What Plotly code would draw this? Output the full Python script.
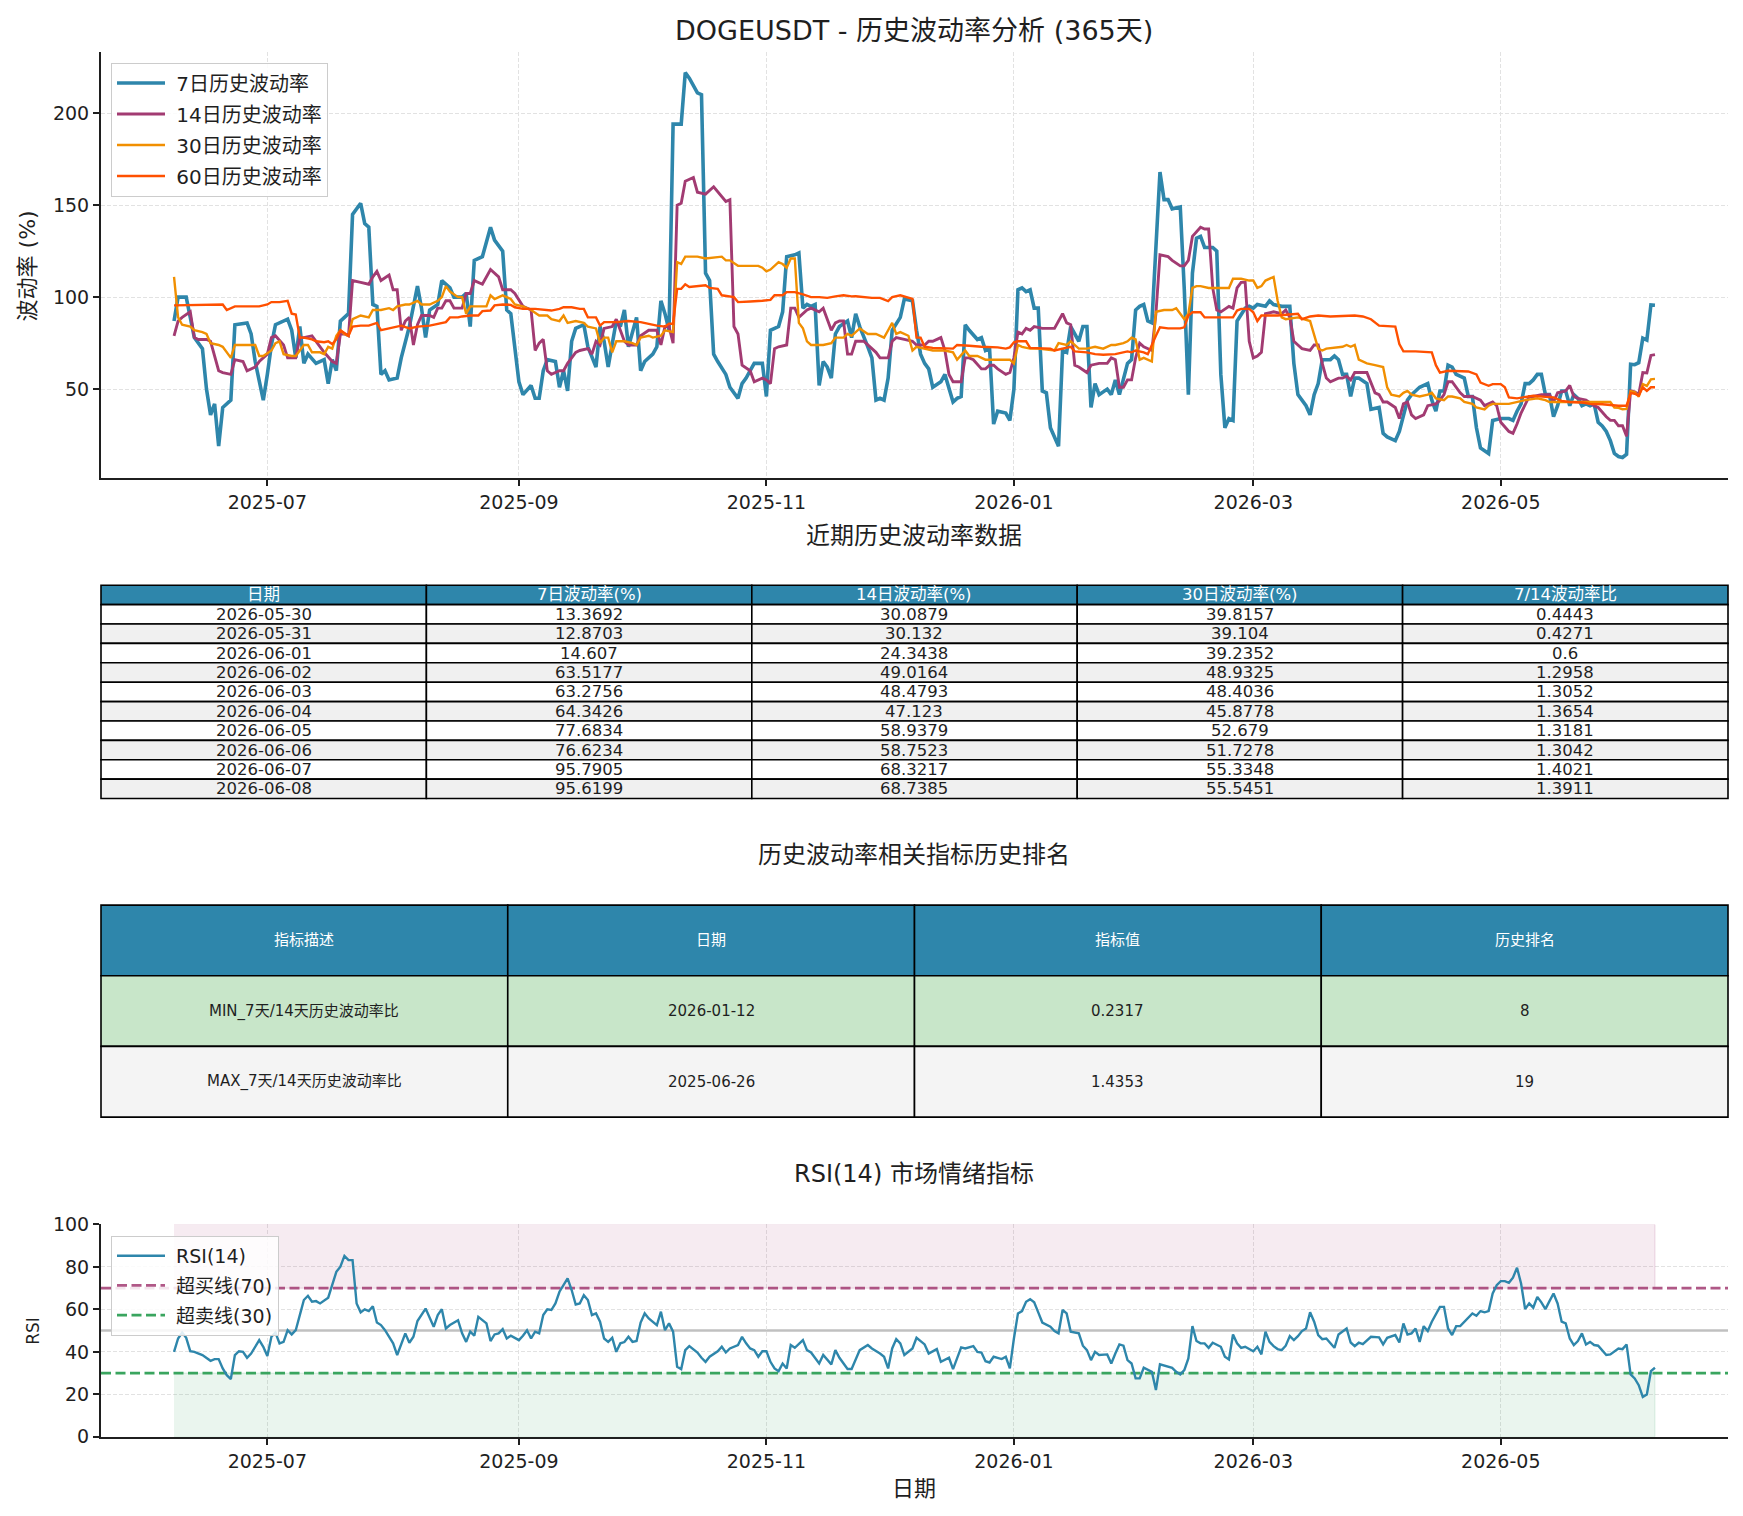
import plotly.graph_objects as go

W, H = 1743, 1516
FONT = "DejaVu Sans, Noto Sans CJK SC, sans-serif"
INK = "#1f1f1f"

C7, C14, C30, C60 = "#2E86AB", "#A23B72", "#F18F01", "#FF5000"
C_OB, C_OS = "#A23B72", "#3aa55f"

# ---------------- data: recent-table values ----------------
TABLE_DATES = ["2026-05-30", "2026-05-31", "2026-06-01", "2026-06-02", "2026-06-03",
               "2026-06-04", "2026-06-05", "2026-06-06", "2026-06-07", "2026-06-08"]
TABLE_VOL_7D = [13.3692, 12.8703, 14.607, 63.5177, 63.2756, 64.3426, 77.6834, 76.6234, 95.7905, 95.6199]
TABLE_VOL_14D = [30.0879, 30.132, 24.3438, 49.0164, 48.4793, 47.123, 58.9379, 58.7523, 68.3217, 68.7385]
TABLE_VOL_30D = [39.8157, 39.104, 39.2352, 48.9325, 48.4036, 45.8778, 52.679, 51.7278, 55.3348, 55.5451]
TABLE_RATIO = [0.4443, 0.4271, 0.6, 1.2958, 1.3052, 1.3654, 1.3181, 1.3042, 1.4021, 1.3911]
TABLE1_HEADER = ["日期", "7日波动率(%)", "14日波动率(%)", "30日波动率(%)", "7/14波动率比"]

RANK_HEADER = ["指标描述", "日期", "指标值", "历史排名"]
RANK_DESC = ["MIN_7天/14天历史波动率比", "MAX_7天/14天历史波动率比"]
RANK_DATE = ["2026-01-12", "2025-06-26"]
RANK_VALUE = ["0.2317", "1.4353"]
RANK_POS = ["8", "19"]

# ---------------- data: volatility series ----------------
VOL_7D = [
    ("2025-06-08", 87), ("2025-06-09", 100), ("2025-06-11", 100), ("2025-06-12", 88), ("2025-06-13", 78),
    ("2025-06-15", 72), ("2025-06-16", 50), ("2025-06-17", 36), ("2025-06-18", 42), ("2025-06-19", 19),
    ("2025-06-20", 40), ("2025-06-22", 44), ("2025-06-23", 85), ("2025-06-26", 86), ("2025-06-27", 80),
    ("2025-06-28", 65), ("2025-06-30", 44), ("2025-07-01", 58), ("2025-07-02", 74), ("2025-07-03", 85),
    ("2025-07-05", 87), ("2025-07-06", 88), ("2025-07-07", 82), ("2025-07-08", 67), ("2025-07-09", 84),
    ("2025-07-10", 64), ("2025-07-11", 69), ("2025-07-13", 64), ("2025-07-15", 66), ("2025-07-16", 53),
    ("2025-07-17", 66), ("2025-07-18", 60), ("2025-07-19", 87), ("2025-07-21", 91), ("2025-07-22", 145),
    ("2025-07-24", 151), ("2025-07-25", 140), ("2025-07-26", 138), ("2025-07-27", 96), ("2025-07-28", 95),
    ("2025-07-29", 58), ("2025-07-30", 60), ("2025-07-31", 55), ("2025-08-02", 56), ("2025-08-03", 67),
    ("2025-08-05", 84), ("2025-08-07", 106), ("2025-08-08", 94), ("2025-08-09", 78), ("2025-08-10", 93),
    ("2025-08-12", 96), ("2025-08-13", 109), ("2025-08-15", 105), ("2025-08-16", 100), ("2025-08-18", 100),
    ("2025-08-19", 102), ("2025-08-20", 84), ("2025-08-21", 120), ("2025-08-23", 122), ("2025-08-25", 138),
    ("2025-08-26", 131), ("2025-08-28", 125), ("2025-08-29", 93), ("2025-08-30", 91), ("2025-09-01", 54),
    ("2025-09-02", 47), ("2025-09-04", 52), ("2025-09-05", 45), ("2025-09-06", 45), ("2025-09-07", 60),
    ("2025-09-08", 66), ("2025-09-10", 65), ("2025-09-11", 51), ("2025-09-12", 60), ("2025-09-13", 49),
    ("2025-09-14", 76), ("2025-09-15", 83), ("2025-09-17", 85), ("2025-09-18", 73), ("2025-09-20", 62),
    ("2025-09-21", 84), ("2025-09-22", 76), ("2025-09-23", 62), ("2025-09-25", 87), ("2025-09-26", 84),
    ("2025-09-27", 93), ("2025-09-28", 73), ("2025-09-30", 89), ("2025-10-01", 60), ("2025-10-02", 65),
    ("2025-10-04", 69), ("2025-10-05", 73), ("2025-10-06", 98), ("2025-10-07", 91), ("2025-10-08", 82),
    ("2025-10-09", 194), ("2025-10-11", 194), ("2025-10-12", 222), ("2025-10-13", 219), ("2025-10-14", 215),
    ("2025-10-15", 211), ("2025-10-16", 210), ("2025-10-17", 113), ("2025-10-18", 109), ("2025-10-19", 69),
    ("2025-10-20", 65), ("2025-10-22", 58), ("2025-10-23", 51), ("2025-10-25", 45), ("2025-10-26", 53),
    ("2025-10-27", 56), ("2025-10-28", 60), ("2025-10-29", 64), ("2025-10-31", 64), ("2025-11-01", 46),
    ("2025-11-02", 82), ("2025-11-04", 84), ("2025-11-05", 92), ("2025-11-06", 122), ("2025-11-08", 123),
    ("2025-11-09", 124), ("2025-11-10", 94), ("2025-11-11", 96), ("2025-11-12", 95), ("2025-11-13", 96),
    ("2025-11-14", 52), ("2025-11-15", 65), ("2025-11-16", 62), ("2025-11-17", 56), ("2025-11-18", 80),
    ("2025-11-19", 84), ("2025-11-21", 87), ("2025-11-22", 78), ("2025-11-23", 91), ("2025-11-24", 84),
    ("2025-11-26", 73), ("2025-11-27", 67), ("2025-11-28", 44), ("2025-11-29", 45), ("2025-11-30", 44),
    ("2025-12-01", 56), ("2025-12-02", 82), ("2025-12-04", 89), ("2025-12-05", 99), ("2025-12-07", 98),
    ("2025-12-08", 82), ("2025-12-09", 69), ("2025-12-10", 64), ("2025-12-11", 61), ("2025-12-12", 51),
    ("2025-12-14", 54), ("2025-12-15", 58), ("2025-12-16", 51), ("2025-12-17", 43), ("2025-12-18", 45),
    ("2025-12-19", 46), ("2025-12-20", 85), ("2025-12-21", 82), ("2025-12-23", 77), ("2025-12-24", 78),
    ("2025-12-25", 71), ("2025-12-26", 72), ("2025-12-27", 31), ("2025-12-28", 38), ("2025-12-30", 37),
    ("2025-12-31", 33), ("2026-01-01", 50), ("2026-01-02", 104), ("2026-01-03", 105), ("2026-01-04", 103),
    ("2026-01-05", 104), ("2026-01-06", 94), ("2026-01-07", 94), ("2026-01-08", 49), ("2026-01-09", 48),
    ("2026-01-10", 29), ("2026-01-12", 19), ("2026-01-13", 71), ("2026-01-14", 70), ("2026-01-15", 84),
    ("2026-01-16", 80), ("2026-01-17", 76), ("2026-01-18", 84), ("2026-01-19", 84), ("2026-01-20", 40),
    ("2026-01-21", 53), ("2026-01-22", 47), ("2026-01-24", 50), ("2026-01-25", 47), ("2026-01-26", 55),
    ("2026-01-27", 47), ("2026-01-29", 64), ("2026-01-30", 66), ("2026-01-31", 93), ("2026-02-01", 95),
    ("2026-02-02", 96), ("2026-02-03", 87), ("2026-02-04", 86), ("2026-02-05", 127), ("2026-02-06", 168),
    ("2026-02-07", 153), ("2026-02-08", 153), ("2026-02-09", 148), ("2026-02-11", 149), ("2026-02-12", 104),
    ("2026-02-13", 47), ("2026-02-14", 113), ("2026-02-15", 132), ("2026-02-16", 133), ("2026-02-17", 127),
    ("2026-02-19", 127), ("2026-02-20", 125), ("2026-02-21", 58), ("2026-02-22", 29), ("2026-02-23", 34),
    ("2026-02-24", 33), ("2026-02-25", 87), ("2026-02-27", 94), ("2026-02-28", 95), ("2026-03-01", 94),
    ("2026-03-02", 96), ("2026-03-04", 95), ("2026-03-05", 98), ("2026-03-06", 96), ("2026-03-08", 95),
    ("2026-03-10", 95), ("2026-03-11", 64), ("2026-03-12", 47), ("2026-03-14", 41), ("2026-03-15", 36),
    ("2026-03-16", 47), ("2026-03-17", 53), ("2026-03-18", 66), ("2026-03-20", 66), ("2026-03-21", 68),
    ("2026-03-22", 66), ("2026-03-23", 58), ("2026-03-24", 58), ("2026-03-25", 46), ("2026-03-26", 56),
    ("2026-03-27", 56), ("2026-03-29", 53), ("2026-03-30", 39), ("2026-04-01", 40), ("2026-04-02", 26),
    ("2026-04-03", 24), ("2026-04-05", 22), ("2026-04-06", 27), ("2026-04-08", 44), ("2026-04-09", 47),
    ("2026-04-10", 49), ("2026-04-11", 51), ("2026-04-13", 53), ("2026-04-14", 44), ("2026-04-15", 38),
    ("2026-04-16", 49), ("2026-04-17", 49), ("2026-04-18", 63), ("2026-04-19", 62), ("2026-04-20", 58),
    ("2026-04-22", 56), ("2026-04-23", 46), ("2026-04-24", 46), ("2026-04-25", 29), ("2026-04-26", 18),
    ("2026-04-28", 15), ("2026-04-29", 33), ("2026-05-01", 34), ("2026-05-03", 34), ("2026-05-04", 33),
    ("2026-05-05", 38), ("2026-05-06", 42), ("2026-05-07", 53), ("2026-05-08", 53), ("2026-05-09", 55),
    ("2026-05-10", 58), ("2026-05-11", 58), ("2026-05-12", 47), ("2026-05-13", 47), ("2026-05-14", 35),
    ("2026-05-15", 41), ("2026-05-16", 49), ("2026-05-17", 49), ("2026-05-18", 41), ("2026-05-19", 47),
    ("2026-05-20", 45), ("2026-05-21", 41), ("2026-05-22", 42), ("2026-05-23", 41), ("2026-05-24", 42),
    ("2026-05-25", 32), ("2026-05-26", 30), ("2026-05-27", 27), ("2026-05-28", 22), ("2026-05-29", 15),
]

VOL_14D = [
    ("2025-06-08", 79), ("2025-06-09", 87), ("2025-06-10", 89), ("2025-06-12", 92), ("2025-06-13", 78),
    ("2025-06-14", 77), ("2025-06-16", 77), ("2025-06-17", 76), ("2025-06-19", 60), ("2025-06-20", 59),
    ("2025-06-22", 58), ("2025-06-23", 66), ("2025-06-25", 65), ("2025-06-26", 60), ("2025-06-28", 62),
    ("2025-06-29", 65), ("2025-07-01", 69), ("2025-07-02", 78), ("2025-07-03", 79), ("2025-07-05", 74),
    ("2025-07-06", 67), ("2025-07-08", 67), ("2025-07-09", 78), ("2025-07-10", 78), ("2025-07-12", 79),
    ("2025-07-13", 76), ("2025-07-15", 70), ("2025-07-17", 65), ("2025-07-18", 64), ("2025-07-19", 80),
    ("2025-07-20", 80), ("2025-07-21", 79), ("2025-07-22", 109), ("2025-07-24", 108), ("2025-07-26", 107),
    ("2025-07-27", 111), ("2025-07-28", 114), ("2025-07-29", 109), ("2025-07-31", 112), ("2025-08-01", 104),
    ("2025-08-02", 104), ("2025-08-03", 82), ("2025-08-04", 87), ("2025-08-05", 89), ("2025-08-06", 74),
    ("2025-08-07", 85), ("2025-08-08", 90), ("2025-08-10", 90), ("2025-08-11", 89), ("2025-08-12", 94),
    ("2025-08-13", 94), ("2025-08-14", 98), ("2025-08-15", 98), ("2025-08-16", 94), ("2025-08-18", 94),
    ("2025-08-19", 102), ("2025-08-20", 102), ("2025-08-21", 109), ("2025-08-23", 107), ("2025-08-25", 115),
    ("2025-08-27", 111), ("2025-08-28", 104), ("2025-08-30", 104), ("2025-08-31", 102), ("2025-09-02", 95),
    ("2025-09-04", 93), ("2025-09-05", 71), ("2025-09-06", 75), ("2025-09-07", 77), ("2025-09-08", 60),
    ("2025-09-09", 58), ("2025-09-11", 60), ("2025-09-12", 60), ("2025-09-13", 64), ("2025-09-15", 70),
    ("2025-09-16", 71), ("2025-09-18", 72), ("2025-09-19", 69), ("2025-09-20", 76), ("2025-09-21", 74),
    ("2025-09-22", 83), ("2025-09-24", 84), ("2025-09-25", 88), ("2025-09-27", 76), ("2025-09-28", 74),
    ("2025-09-30", 74), ("2025-10-01", 79), ("2025-10-03", 82), ("2025-10-05", 82), ("2025-10-06", 74),
    ("2025-10-07", 84), ("2025-10-08", 84), ("2025-10-09", 75), ("2025-10-10", 150), ("2025-10-11", 151),
    ("2025-10-12", 163), ("2025-10-14", 165), ("2025-10-15", 157), ("2025-10-17", 156), ("2025-10-19", 160),
    ("2025-10-21", 155), ("2025-10-22", 152), ("2025-10-23", 153), ("2025-10-24", 84), ("2025-10-25", 80),
    ("2025-10-26", 63), ("2025-10-28", 60), ("2025-10-29", 54), ("2025-10-31", 56), ("2025-11-01", 55),
    ("2025-11-02", 53), ("2025-11-03", 72), ("2025-11-04", 73), ("2025-11-06", 74), ("2025-11-07", 94),
    ("2025-11-08", 94), ("2025-11-09", 89), ("2025-11-11", 93), ("2025-11-12", 94), ("2025-11-14", 92),
    ("2025-11-15", 94), ("2025-11-17", 82), ("2025-11-18", 86), ("2025-11-19", 87), ("2025-11-20", 87),
    ("2025-11-21", 69), ("2025-11-22", 69), ("2025-11-23", 76), ("2025-11-25", 76), ("2025-11-26", 74),
    ("2025-11-28", 70), ("2025-11-29", 67), ("2025-12-01", 67), ("2025-12-02", 76), ("2025-12-03", 78),
    ("2025-12-05", 77), ("2025-12-07", 76), ("2025-12-08", 74), ("2025-12-10", 74), ("2025-12-11", 76),
    ("2025-12-12", 76), ("2025-12-14", 78), ("2025-12-15", 71), ("2025-12-16", 58), ("2025-12-17", 54),
    ("2025-12-19", 54), ("2025-12-20", 67), ("2025-12-21", 67), ("2025-12-22", 66), ("2025-12-24", 61),
    ("2025-12-25", 61), ("2025-12-26", 63), ("2025-12-27", 63), ("2025-12-28", 61), ("2025-12-30", 58),
    ("2025-12-31", 59), ("2026-01-01", 67), ("2026-01-02", 81), ("2026-01-03", 80), ("2026-01-04", 83),
    ("2026-01-05", 82), ("2026-01-06", 84), ("2026-01-08", 83), ("2026-01-10", 83), ("2026-01-11", 83),
    ("2026-01-13", 91), ("2026-01-14", 86), ("2026-01-15", 85), ("2026-01-16", 63), ("2026-01-17", 62),
    ("2026-01-19", 59), ("2026-01-20", 63), ("2026-01-22", 64), ("2026-01-24", 64), ("2026-01-25", 67),
    ("2026-01-26", 66), ("2026-01-27", 51), ("2026-01-28", 51), ("2026-01-29", 55), ("2026-01-30", 55),
    ("2026-01-31", 67), ("2026-02-01", 75), ("2026-02-02", 73), ("2026-02-04", 71), ("2026-02-05", 91),
    ("2026-02-06", 123), ("2026-02-08", 122), ("2026-02-09", 120), ("2026-02-11", 117), ("2026-02-12", 117),
    ("2026-02-13", 120), ("2026-02-14", 133), ("2026-02-16", 138), ("2026-02-17", 137), ("2026-02-18", 137),
    ("2026-02-19", 105), ("2026-02-20", 93), ("2026-02-21", 92), ("2026-02-23", 95), ("2026-02-24", 94),
    ("2026-02-25", 105), ("2026-02-26", 108), ("2026-02-27", 108), ("2026-02-28", 76), ("2026-03-01", 67),
    ("2026-03-02", 68), ("2026-03-03", 70), ("2026-03-04", 91), ("2026-03-06", 92), ("2026-03-08", 91),
    ("2026-03-09", 93), ("2026-03-10", 89), ("2026-03-11", 76), ("2026-03-12", 74), ("2026-03-13", 72),
    ("2026-03-15", 71), ("2026-03-16", 74), ("2026-03-17", 74), ("2026-03-18", 64), ("2026-03-19", 56),
    ("2026-03-20", 54), ("2026-03-22", 56), ("2026-03-23", 56), ("2026-03-24", 57), ("2026-03-25", 55),
    ("2026-03-26", 59), ("2026-03-29", 59), ("2026-03-31", 48), ("2026-04-01", 47), ("2026-04-02", 43),
    ("2026-04-03", 43), ("2026-04-05", 40), ("2026-04-06", 34), ("2026-04-07", 42), ("2026-04-08", 43),
    ("2026-04-09", 36), ("2026-04-10", 34), ("2026-04-12", 36), ("2026-04-13", 41), ("2026-04-15", 42),
    ("2026-04-16", 44), ("2026-04-17", 47), ("2026-04-18", 54), ("2026-04-19", 54), ("2026-04-21", 48),
    ("2026-04-22", 46), ("2026-04-24", 46), ("2026-04-26", 44), ("2026-04-27", 41), ("2026-04-29", 43),
    ("2026-04-30", 41), ("2026-05-01", 32), ("2026-05-03", 27), ("2026-05-04", 26), ("2026-05-05", 31),
    ("2026-05-06", 37), ("2026-05-08", 46), ("2026-05-09", 46), ("2026-05-11", 47), ("2026-05-13", 47),
    ("2026-05-14", 43), ("2026-05-15", 48), ("2026-05-17", 49), ("2026-05-18", 52), ("2026-05-19", 46),
    ("2026-05-20", 45), ("2026-05-22", 44), ("2026-05-24", 41), ("2026-05-25", 40), ("2026-05-27", 35),
    ("2026-05-28", 33), ("2026-05-29", 33),
]

VOL_30D = [
    ("2025-06-08", 111), ("2025-06-09", 89), ("2025-06-10", 85), ("2025-06-12", 84), ("2025-06-13", 82),
    ("2025-06-15", 81), ("2025-06-16", 80), ("2025-06-17", 75), ("2025-06-19", 74), ("2025-06-20", 73),
    ("2025-06-22", 67), ("2025-06-23", 74), ("2025-06-28", 74), ("2025-06-29", 68), ("2025-06-30", 68),
    ("2025-07-02", 71), ("2025-07-03", 75), ("2025-07-04", 76), ("2025-07-05", 69), ("2025-07-07", 68),
    ("2025-07-08", 68), ("2025-07-10", 74), ("2025-07-11", 74), ("2025-07-12", 70), ("2025-07-14", 70),
    ("2025-07-15", 69), ("2025-07-16", 73), ("2025-07-17", 72), ("2025-07-18", 79), ("2025-07-19", 82),
    ("2025-07-20", 80), ("2025-07-21", 79), ("2025-07-22", 88), ("2025-07-24", 90), ("2025-07-26", 89),
    ("2025-07-27", 93), ("2025-07-29", 93), ("2025-07-31", 94), ("2025-08-01", 93), ("2025-08-02", 95),
    ("2025-08-04", 96), ("2025-08-05", 96), ("2025-08-07", 98), ("2025-08-08", 96), ("2025-08-10", 96),
    ("2025-08-12", 98), ("2025-08-13", 100), ("2025-08-14", 106), ("2025-08-15", 103), ("2025-08-17", 100),
    ("2025-08-18", 100), ("2025-08-19", 91), ("2025-08-20", 95), ("2025-08-24", 95), ("2025-08-25", 101),
    ("2025-08-26", 99), ("2025-08-28", 101), ("2025-08-30", 99), ("2025-08-31", 96), ("2025-09-02", 95),
    ("2025-09-04", 93), ("2025-09-06", 90), ("2025-09-08", 90), ("2025-09-09", 88), ("2025-09-11", 87),
    ("2025-09-12", 90), ("2025-09-13", 86), ("2025-09-15", 87), ("2025-09-17", 86), ("2025-09-18", 84),
    ("2025-09-20", 83), ("2025-09-21", 75), ("2025-09-22", 78), ("2025-09-23", 78), ("2025-09-24", 70),
    ("2025-09-25", 76), ("2025-09-27", 76), ("2025-09-29", 75), ("2025-09-30", 74), ("2025-10-01", 78),
    ("2025-10-03", 79), ("2025-10-04", 78), ("2025-10-06", 79), ("2025-10-07", 82), ("2025-10-09", 81),
    ("2025-10-10", 119), ("2025-10-11", 118), ("2025-10-12", 122), ("2025-10-15", 122), ("2025-10-17", 121),
    ("2025-10-21", 122), ("2025-10-22", 120), ("2025-10-23", 120), ("2025-10-25", 117), ("2025-10-27", 117),
    ("2025-10-30", 117), ("2025-10-31", 116), ("2025-11-01", 114), ("2025-11-02", 115), ("2025-11-04", 119),
    ("2025-11-05", 118), ("2025-11-06", 116), ("2025-11-07", 121), ("2025-11-08", 121), ("2025-11-09", 86),
    ("2025-11-10", 83), ("2025-11-11", 76), ("2025-11-12", 74), ("2025-11-15", 74), ("2025-11-17", 75),
    ("2025-11-18", 78), ("2025-11-20", 78), ("2025-11-21", 80), ("2025-11-22", 79), ("2025-11-24", 83),
    ("2025-11-26", 80), ("2025-11-28", 80), ("2025-11-29", 79), ("2025-11-30", 78), ("2025-12-01", 82),
    ("2025-12-02", 86), ("2025-12-03", 80), ("2025-12-04", 81), ("2025-12-06", 79), ("2025-12-07", 71),
    ("2025-12-08", 73), ("2025-12-10", 72), ("2025-12-12", 71), ("2025-12-15", 71), ("2025-12-17", 70),
    ("2025-12-18", 66), ("2025-12-20", 71), ("2025-12-21", 68), ("2025-12-23", 68), ("2025-12-25", 66),
    ("2025-12-31", 66), ("2026-01-01", 64), ("2026-01-02", 74), ("2026-01-03", 73), ("2026-01-05", 72),
    ("2026-01-07", 72), ("2026-01-10", 71), ("2026-01-11", 71), ("2026-01-12", 75), ("2026-01-14", 74),
    ("2026-01-15", 76), ("2026-01-16", 74), ("2026-01-17", 72), ("2026-01-19", 72), ("2026-01-21", 73),
    ("2026-01-23", 72), ("2026-01-25", 74), ("2026-01-26", 74), ("2026-01-28", 75), ("2026-01-29", 76),
    ("2026-01-30", 78), ("2026-01-31", 77), ("2026-02-01", 66), ("2026-02-02", 67), ("2026-02-04", 65),
    ("2026-02-05", 92), ("2026-02-07", 93), ("2026-02-09", 93), ("2026-02-10", 94), ("2026-02-11", 91),
    ("2026-02-12", 88), ("2026-02-13", 91), ("2026-02-14", 105), ("2026-02-15", 106), ("2026-02-16", 106),
    ("2026-02-18", 105), ("2026-02-23", 105), ("2026-02-24", 110), ("2026-02-26", 110), ("2026-02-28", 109),
    ("2026-03-01", 109), ("2026-03-02", 105), ("2026-03-03", 106), ("2026-03-04", 109), ("2026-03-06", 111),
    ("2026-03-07", 98), ("2026-03-08", 89), ("2026-03-09", 88), ("2026-03-12", 89), ("2026-03-15", 87),
    ("2026-03-16", 80), ("2026-03-17", 72), ("2026-03-18", 71), ("2026-03-19", 72), ("2026-03-23", 73),
    ("2026-03-24", 74), ("2026-03-25", 73), ("2026-03-26", 74), ("2026-03-27", 66), ("2026-03-29", 64),
    ("2026-03-31", 63), ("2026-04-02", 62), ("2026-04-03", 51), ("2026-04-04", 47), ("2026-04-06", 46),
    ("2026-04-07", 48), ("2026-04-08", 49), ("2026-04-09", 47), ("2026-04-11", 46), ("2026-04-13", 47),
    ("2026-04-14", 48), ("2026-04-15", 45), ("2026-04-17", 44), ("2026-04-18", 46), ("2026-04-19", 46),
    ("2026-04-21", 45), ("2026-04-22", 43), ("2026-04-24", 42), ("2026-04-25", 40), ("2026-04-27", 39),
    ("2026-04-28", 41), ("2026-04-29", 42), ("2026-05-03", 42), ("2026-05-05", 43), ("2026-05-07", 44),
    ("2026-05-10", 45), ("2026-05-12", 44), ("2026-05-13", 43), ("2026-05-28", 43), ("2026-05-29", 40),
]

VOL_60D = [
    ("2025-06-08", 95.5), ("2025-06-20", 96), ("2025-06-21", 93), ("2025-06-23", 95), ("2025-06-29", 95),
    ("2025-07-01", 96), ("2025-07-02", 97.3), ("2025-07-04", 97.3), ("2025-07-06", 98), ("2025-07-07", 91),
    ("2025-07-08", 90.5), ("2025-07-09", 78), ("2025-07-10", 78), ("2025-07-12", 77), ("2025-07-13", 76),
    ("2025-07-15", 75.5), ("2025-07-16", 76), ("2025-07-17", 74.5), ("2025-07-18", 77), ("2025-07-19", 82),
    ("2025-07-21", 79), ("2025-07-22", 84), ("2025-07-24", 84.5), ("2025-07-26", 84.5), ("2025-07-28", 86),
    ("2025-07-29", 82), ("2025-07-31", 83), ("2025-08-02", 84), ("2025-08-03", 84.5), ("2025-08-05", 83),
    ("2025-08-07", 84), ("2025-08-10", 84.5), ("2025-08-12", 85.5), ("2025-08-14", 86.4), ("2025-08-15", 89),
    ("2025-08-17", 89), ("2025-08-18", 89.5), ("2025-08-20", 90), ("2025-08-22", 90), ("2025-08-23", 92.4),
    ("2025-08-25", 92.7), ("2025-08-26", 95.5), ("2025-08-28", 96), ("2025-08-30", 95.8), ("2025-08-31", 94.5),
    ("2025-09-02", 93.6), ("2025-09-05", 93.6), ("2025-09-08", 93), ("2025-09-09", 92.7), ("2025-09-11", 93.6),
    ("2025-09-12", 94.5), ("2025-09-14", 94.5), ("2025-09-16", 93.6), ("2025-09-17", 93.6), ("2025-09-18", 89),
    ("2025-09-20", 89), ("2025-09-21", 84.5), ("2025-09-22", 86.4), ("2025-09-25", 86.4), ("2025-09-28", 87),
    ("2025-10-01", 86.4), ("2025-10-03", 85.5), ("2025-10-05", 84.5), ("2025-10-07", 84), ("2025-10-08", 85.5),
    ("2025-10-09", 85.5), ("2025-10-10", 104.5), ("2025-10-11", 104.5), ("2025-10-12", 107), ("2025-10-13", 105.5),
    ("2025-10-15", 105.8), ("2025-10-17", 106.4), ("2025-10-18", 105), ("2025-10-20", 104.5), ("2025-10-21", 101),
    ("2025-10-23", 100.4), ("2025-10-24", 100), ("2025-10-25", 97.3), ("2025-10-26", 97.3), ("2025-10-28", 97.6),
    ("2025-10-31", 98), ("2025-11-02", 98.5), ("2025-11-03", 101), ("2025-11-05", 101), ("2025-11-06", 102.7),
    ("2025-11-08", 102.7), ("2025-11-10", 101.5), ("2025-11-12", 100), ("2025-11-14", 100), ("2025-11-16", 99.6),
    ("2025-11-18", 100.4), ("2025-11-20", 101), ("2025-11-22", 100.4), ("2025-11-23", 100.5), ("2025-11-27", 99.6),
    ("2025-11-29", 99.6), ("2025-12-01", 97.8), ("2025-12-02", 100), ("2025-12-04", 101), ("2025-12-06", 99.6),
    ("2025-12-07", 99), ("2025-12-08", 78), ("2025-12-09", 78), ("2025-12-10", 73), ("2025-12-12", 72.4),
    ("2025-12-17", 72), ("2025-12-18", 74), ("2025-12-21", 73.6), ("2025-12-24", 73), ("2025-12-28", 72.7),
    ("2025-12-30", 72), ("2025-12-31", 72.7), ("2026-01-01", 75.5), ("2026-01-02", 76), ("2026-01-04", 76),
    ("2026-01-05", 72.4), ("2026-01-07", 72.4), ("2026-01-10", 72), ("2026-01-11", 71), ("2026-01-13", 72),
    ("2026-01-15", 73), ("2026-01-16", 70.5), ("2026-01-19", 70), ("2026-01-21", 69), ("2026-01-23", 68.7),
    ("2026-01-26", 69), ("2026-01-27", 69.5), ("2026-01-29", 70.5), ("2026-01-30", 70), ("2026-01-31", 71),
    ("2026-02-02", 70), ("2026-02-03", 69), ("2026-02-05", 79), ("2026-02-06", 83.6), ("2026-02-08", 83),
    ("2026-02-11", 83), ("2026-02-12", 83.6), ("2026-02-13", 90), ("2026-02-14", 91.8), ("2026-02-16", 91.8),
    ("2026-02-17", 89), ("2026-02-24", 89), ("2026-02-25", 92.7), ("2026-02-26", 93.6), ("2026-02-28", 93.6),
    ("2026-03-01", 91.8), ("2026-03-02", 87), ("2026-03-03", 90), ("2026-03-07", 90), ("2026-03-10", 90.5),
    ("2026-03-12", 91), ("2026-03-13", 88), ("2026-03-15", 89.5), ("2026-03-17", 90), ("2026-03-20", 89.5),
    ("2026-03-26", 90), ("2026-03-28", 89.5), ("2026-03-30", 88), ("2026-04-01", 84.5), ("2026-04-05", 84),
    ("2026-04-06", 74.5), ("2026-04-07", 70.5), ("2026-04-10", 70.5), ("2026-04-14", 70), ("2026-04-15", 63),
    ("2026-04-16", 59), ("2026-04-18", 60), ("2026-04-23", 59.6), ("2026-04-24", 59), ("2026-04-25", 58),
    ("2026-04-26", 53.6), ("2026-04-28", 51.8), ("2026-04-29", 52.7), ("2026-05-01", 52.7), ("2026-05-02", 51),
    ("2026-05-03", 45.5), ("2026-05-05", 45), ("2026-05-07", 45.8), ("2026-05-09", 46.4), ("2026-05-12", 45.8),
    ("2026-05-14", 45.5), ("2026-05-16", 43.6), ("2026-05-18", 43), ("2026-05-21", 42.7), ("2026-05-23", 42),
    ("2026-05-26", 41.8), ("2026-05-28", 41.3), ("2026-05-30", 41), ("2026-06-01", 41), ("2026-06-02", 48),
    ("2026-06-03", 47.5), ("2026-06-04", 46.4), ("2026-06-05", 51), ("2026-06-06", 49), ("2026-06-07", 51),
    ("2026-06-08", 51),
]

RSI_14 = [
    ("2025-06-08", 40), ("2025-06-09", 46.3), ("2025-06-10", 49.1), ("2025-06-11", 46.6), ("2025-06-12", 40.3),
    ("2025-06-13", 40), ("2025-06-15", 38.5), ("2025-06-17", 35.8), ("2025-06-18", 36.6), ("2025-06-19", 36.6),
    ("2025-06-20", 32.2), ("2025-06-21", 29), ("2025-06-22", 27.2), ("2025-06-23", 38.5), ("2025-06-24", 40.3),
    ("2025-06-25", 40), ("2025-06-26", 37.2), ("2025-06-27", 39.2), ("2025-06-29", 45.5), ("2025-06-30", 42.4),
    ("2025-07-01", 38.1), ("2025-07-02", 47.1), ("2025-07-03", 49.1), ("2025-07-04", 44), ("2025-07-05", 44.7),
    ("2025-07-06", 50.2), ("2025-07-07", 48.2), ("2025-07-08", 50.2), ("2025-07-09", 57.3), ("2025-07-10", 64.4),
    ("2025-07-11", 66.4), ("2025-07-12", 63.6), ("2025-07-13", 63.9), ("2025-07-14", 62.8), ("2025-07-16", 65.5),
    ("2025-07-17", 72.2), ("2025-07-18", 77.7), ("2025-07-19", 80.1), ("2025-07-20", 85.2), ("2025-07-21", 83.2),
    ("2025-07-22", 83.2), ("2025-07-23", 62.8), ("2025-07-24", 58.6), ("2025-07-25", 60), ("2025-07-26", 59.2),
    ("2025-07-27", 61.5), ("2025-07-28", 53.8), ("2025-07-29", 52.6), ("2025-07-30", 50.2), ("2025-08-01", 44),
    ("2025-08-02", 38.5), ("2025-08-04", 48.7), ("2025-08-05", 44.3), ("2025-08-06", 47.1), ("2025-08-07", 54.5),
    ("2025-08-09", 60.4), ("2025-08-11", 51.8), ("2025-08-12", 57.3), ("2025-08-13", 60.1), ("2025-08-14", 51),
    ("2025-08-15", 52.6), ("2025-08-17", 54.9), ("2025-08-18", 48.7), ("2025-08-19", 44.7), ("2025-08-20", 49.5),
    ("2025-08-21", 47.6), ("2025-08-22", 56.5), ("2025-08-24", 53.4), ("2025-08-25", 45.1), ("2025-08-26", 48.2),
    ("2025-08-27", 48.7), ("2025-08-28", 50.7), ("2025-08-29", 46.3), ("2025-08-30", 47.6), ("2025-09-01", 45.5),
    ("2025-09-02", 47.6), ("2025-09-03", 50.2), ("2025-09-04", 46.3), ("2025-09-05", 49.5), ("2025-09-06", 48.7),
    ("2025-09-07", 57.3), ("2025-09-08", 60), ("2025-09-09", 59.7), ("2025-09-10", 62.8), ("2025-09-11", 68.3),
    ("2025-09-13", 74.6), ("2025-09-14", 69.1), ("2025-09-15", 62.3), ("2025-09-16", 62.8), ("2025-09-17", 66.7),
    ("2025-09-18", 64.4), ("2025-09-19", 57.3), ("2025-09-20", 58.1), ("2025-09-21", 54.2), ("2025-09-22", 46.3),
    ("2025-09-23", 44.7), ("2025-09-24", 46.6), ("2025-09-25", 40), ("2025-09-26", 44), ("2025-09-27", 44.6),
    ("2025-09-28", 47.1), ("2025-09-29", 44.7), ("2025-09-30", 45.1), ("2025-10-01", 53.8), ("2025-10-02", 58.1),
    ("2025-10-03", 55.7), ("2025-10-05", 52.6), ("2025-10-06", 58.9), ("2025-10-07", 50.2), ("2025-10-08", 53.4),
    ("2025-10-09", 49.5), ("2025-10-10", 33), ("2025-10-11", 31.9), ("2025-10-12", 40.8), ("2025-10-13", 42.7),
    ("2025-10-15", 39.7), ("2025-10-16", 37.2), ("2025-10-17", 35.3), ("2025-10-18", 37.7), ("2025-10-20", 40.3),
    ("2025-10-21", 42.4), ("2025-10-22", 39.7), ("2025-10-23", 41.6), ("2025-10-25", 43.2), ("2025-10-26", 47.1),
    ("2025-10-27", 44), ("2025-10-28", 41.6), ("2025-10-29", 40.8), ("2025-10-30", 37.7), ("2025-10-31", 40.3),
    ("2025-11-01", 40.3), ("2025-11-02", 35.3), ("2025-11-03", 32.2), ("2025-11-04", 30.9), ("2025-11-05", 34.5),
    ("2025-11-06", 32.2), ("2025-11-07", 43.2), ("2025-11-08", 41.9), ("2025-11-10", 45.5), ("2025-11-11", 40.8),
    ("2025-11-12", 39.7), ("2025-11-14", 34.5), ("2025-11-15", 38.5), ("2025-11-17", 34.1), ("2025-11-18", 40.8),
    ("2025-11-19", 37.2), ("2025-11-20", 34.5), ("2025-11-21", 31.9), ("2025-11-22", 31.9), ("2025-11-24", 40.8),
    ("2025-11-26", 43.2), ("2025-11-27", 41.6), ("2025-11-29", 39.2), ("2025-11-30", 37.7), ("2025-12-01", 32.2),
    ("2025-12-02", 41.6), ("2025-12-03", 46), ("2025-12-04", 44), ("2025-12-05", 38.5), ("2025-12-07", 41.6),
    ("2025-12-08", 46.6), ("2025-12-10", 43.5), ("2025-12-11", 39.2), ("2025-12-13", 41.3), ("2025-12-14", 35.3),
    ("2025-12-16", 37.2), ("2025-12-17", 31.9), ("2025-12-19", 42.1), ("2025-12-20", 41.6), ("2025-12-22", 42.7),
    ("2025-12-23", 40), ("2025-12-24", 39.7), ("2025-12-25", 35.6), ("2025-12-26", 35), ("2025-12-27", 37.7),
    ("2025-12-28", 37.2), ("2025-12-29", 36.6), ("2025-12-30", 37.7), ("2025-12-31", 32.2), ("2026-01-01", 46.3),
    ("2026-01-02", 58.1), ("2026-01-03", 59.2), ("2026-01-04", 63.6), ("2026-01-05", 64.8), ("2026-01-06", 63.3),
    ("2026-01-07", 58.6), ("2026-01-08", 53.8), ("2026-01-10", 51.8), ("2026-01-11", 49.8), ("2026-01-12", 48.7),
    ("2026-01-13", 59.7), ("2026-01-14", 58.1), ("2026-01-15", 49.5), ("2026-01-17", 48.7), ("2026-01-18", 42.9),
    ("2026-01-19", 40.8), ("2026-01-20", 36.1), ("2026-01-21", 40), ("2026-01-22", 38.5), ("2026-01-24", 38.8),
    ("2026-01-25", 34.5), ("2026-01-26", 39.2), ("2026-01-27", 43.5), ("2026-01-28", 42.9), ("2026-01-29", 36.1),
    ("2026-01-30", 34.5), ("2026-01-31", 27.5), ("2026-02-01", 27.5), ("2026-02-02", 32.5), ("2026-02-04", 30.6),
    ("2026-02-05", 22), ("2026-02-06", 34.1), ("2026-02-08", 33), ("2026-02-09", 32.5), ("2026-02-10", 30.6),
    ("2026-02-11", 29.4), ("2026-02-12", 31.4), ("2026-02-13", 36.9), ("2026-02-14", 52.1), ("2026-02-15", 45.1),
    ("2026-02-16", 44), ("2026-02-17", 44), ("2026-02-18", 41.9), ("2026-02-19", 44.3), ("2026-02-21", 42.4),
    ("2026-02-22", 37.7), ("2026-02-23", 36.4), ("2026-02-24", 48.2), ("2026-02-25", 44), ("2026-02-26", 41.9),
    ("2026-02-27", 42.4), ("2026-03-01", 40.3), ("2026-03-02", 42.4), ("2026-03-03", 38.8), ("2026-03-04", 49.5),
    ("2026-03-05", 44.7), ("2026-03-06", 42.7), ("2026-03-07", 41.3), ("2026-03-08", 40.8), ("2026-03-09", 42.9),
    ("2026-03-10", 47.4), ("2026-03-11", 45.5), ("2026-03-12", 47.4), ("2026-03-13", 49.8), ("2026-03-14", 51),
    ("2026-03-15", 58.6), ("2026-03-16", 54.2), ("2026-03-17", 47.9), ("2026-03-18", 46), ("2026-03-19", 46.3),
    ("2026-03-21", 41.9), ("2026-03-22", 48.2), ("2026-03-24", 51), ("2026-03-25", 44.4), ("2026-03-26", 42.7),
    ("2026-03-27", 44.3), ("2026-03-28", 43.6), ("2026-03-30", 47.1), ("2026-04-01", 46.8), ("2026-04-02", 43.5),
    ("2026-04-03", 46.6), ("2026-04-05", 47.9), ("2026-04-06", 44.4), ("2026-04-07", 53.4), ("2026-04-08", 48.2),
    ("2026-04-09", 48.7), ("2026-04-10", 51), ("2026-04-11", 44.7), ("2026-04-12", 52.1), ("2026-04-13", 49.8),
    ("2026-04-14", 54.2), ("2026-04-16", 61.2), ("2026-04-17", 61.2), ("2026-04-18", 51), ("2026-04-19", 47.9),
    ("2026-04-20", 52.1), ("2026-04-21", 52.1), ("2026-04-22", 54.2), ("2026-04-23", 56.5), ("2026-04-24", 58.1),
    ("2026-04-25", 57), ("2026-04-26", 59.2), ("2026-04-27", 58.6), ("2026-04-28", 59.2), ("2026-04-29", 67.5),
    ("2026-04-30", 71.4), ("2026-05-01", 73.3), ("2026-05-02", 73.3), ("2026-05-03", 72.5), ("2026-05-04", 74.9),
    ("2026-05-05", 79.6), ("2026-05-06", 72.2), ("2026-05-07", 60.1), ("2026-05-08", 62.8), ("2026-05-09", 60.8),
    ("2026-05-10", 65.9), ("2026-05-11", 63.3), ("2026-05-12", 60.1), ("2026-05-13", 63.9), ("2026-05-14", 67.5),
    ("2026-05-15", 62.8), ("2026-05-16", 54.2), ("2026-05-17", 53.4), ("2026-05-18", 46.3), ("2026-05-19", 43.2),
    ("2026-05-20", 45.1), ("2026-05-21", 48.7), ("2026-05-22", 43.5), ("2026-05-23", 44.7), ("2026-05-24", 43.2),
    ("2026-05-25", 42.9), ("2026-05-26", 40.8), ("2026-05-27", 38.5), ("2026-05-28", 38.8), ("2026-05-30", 41.6),
    ("2026-05-31", 41.3), ("2026-06-01", 43.5), ("2026-06-02", 29.4), ("2026-06-03", 27.5), ("2026-06-04", 24.3),
    ("2026-06-05", 18.8), ("2026-06-06", 19.9), ("2026-06-07", 30.9), ("2026-06-08", 32.5),
]

RSI_OVERBOUGHT, RSI_OVERSOLD, RSI_MID = 70, 30, 50
TICK_DATES = ["2025-07-01", "2025-09-01", "2025-11-01", "2026-01-01", "2026-03-01", "2026-05-01"]
TICK_LABELS = ["2025-07", "2025-09", "2025-11", "2026-01", "2026-03", "2026-05"]
X_RANGE = ["2025-05-21", "2026-06-26"]
VOL_YRANGE = [1.8, 233.1]
VOL_YTICKS = [50, 100, 150, 200]
RSI_YTICKS = [0, 20, 40, 60, 80, 100]


def unzip(pairs, extra_x=None, extra_y=None):
    xs = [p[0] for p in pairs]
    ys = [p[1] for p in pairs]
    if extra_x is not None:
        xs += list(extra_x)
        ys += list(extra_y)
    return xs, ys


# ---------------- layout geometry (target pixels in the photographed page) ----------------
# the photographed page is vertically a little taller than the figure; compensate
VSCALE, VOFF = 0.986, 10.45


def fx(px):
    return px / W


def fy(py):
    return 1 - ((py - VOFF) / VSCALE) / H


AX_L, AX_R = 101, 1728
TOP_T, TOP_B = 51.7, 477.5
RSI_T, RSI_B = 1224.5, 1437
CX = (AX_L + AX_R) / 2
NB = "\u00a0"

fig = go.Figure()

series = [
    ("7日历史波动率", unzip(VOL_7D, TABLE_DATES, TABLE_VOL_7D), C7, 3.6),
    ("14日历史波动率", unzip(VOL_14D, TABLE_DATES, TABLE_VOL_14D), C14, 2.9),
    ("30日历史波动率", unzip(VOL_30D, TABLE_DATES, TABLE_VOL_30D), C30, 2.4),
    ("60日历史波动率", unzip(VOL_60D), C60, 2.4),
]
for i, (name, (xs, ys), col, w) in enumerate(series):
    fig.add_trace(go.Scatter(x=xs, y=ys, mode="lines", name=NB + name, line=dict(color=col, width=w),
                             xaxis="x", yaxis="y", legend="legend", legendgroup=f"v{i}", legendrank=i + 1))

# RSI panel
rsi_x, rsi_y = unzip(RSI_14)
start, end = rsi_x[0], rsi_x[-1]
fig.add_trace(go.Scatter(x=[start, end, end, start], y=[RSI_OVERBOUGHT, RSI_OVERBOUGHT, 100, 100],
                         fill="toself", fillcolor="rgba(162,59,114,0.10)", mode="lines",
                         line=dict(color="rgba(162,59,114,0.18)", width=1), showlegend=False,
                         xaxis="x2", yaxis="y2", hoverinfo="skip"))
fig.add_trace(go.Scatter(x=[start, end, end, start], y=[0, 0, RSI_OVERSOLD, RSI_OVERSOLD],
                         fill="toself", fillcolor="rgba(46,158,91,0.10)", mode="lines",
                         line=dict(color="rgba(46,158,91,0.15)", width=1), showlegend=False,
                         xaxis="x2", yaxis="y2", hoverinfo="skip"))
fig.add_trace(go.Scatter(x=X_RANGE, y=[RSI_OVERBOUGHT] * 2, mode="lines", name=NB + "超买线(70)",
                         line=dict(color=C_OB, width=2.8, dash="10px,4.5px"), opacity=0.85,
                         xaxis="x2", yaxis="y2", legend="legend2", legendgroup="r2", legendrank=2))
fig.add_trace(go.Scatter(x=X_RANGE, y=[RSI_OVERSOLD] * 2, mode="lines", name=NB + "超卖线(30)",
                         line=dict(color=C_OS, width=2.8, dash="10px,4.5px"),
                         xaxis="x2", yaxis="y2", legend="legend2", legendgroup="r3", legendrank=3))
fig.add_trace(go.Scatter(x=rsi_x, y=rsi_y, mode="lines", name=NB + "RSI(14)", line=dict(color=C7, width=2.4),
                         xaxis="x2", yaxis="y2", legend="legend2", legendgroup="r1", legendrank=1))

axis_base = dict(showline=True, linecolor=INK, linewidth=2, ticks="outside", ticklen=6, tickwidth=1.5,
                 tickcolor=INK, tickfont=dict(size=19, color=INK, family=FONT), zeroline=False,
                 showgrid=True, gridcolor="#e2e2e2", gridwidth=1, griddash="4px,2px")
xaxis_base = dict(axis_base, type="date", range=X_RANGE, tickvals=TICK_DATES, ticktext=TICK_LABELS)

shapes = []
annotations = []

# mid line in RSI
shapes.append(dict(type="line", xref="x2 domain", x0=0, x1=1, yref="y2", y0=RSI_MID, y1=RSI_MID,
                   line=dict(color="rgba(150,150,150,0.6)", width=2.5), layer="below"))


def text(x, y, s, size, color=INK, angle=0):
    annotations.append(dict(x=fx(x), y=fy(y), xref="paper", yref="paper", text=s, showarrow=False,
                            xanchor="center", yanchor="middle", textangle=angle,
                            font=dict(size=size, color=color, family=FONT)))


def rect(x0, y0, x1, y1, fill):
    shapes.append(dict(type="rect", xref="paper", yref="paper", x0=fx(x0), x1=fx(x1), y0=fy(y1), y1=fy(y0),
                       fillcolor=fill, line=dict(color="black", width=1.6), layer="above"))


# titles and axis labels
text(CX, 30, "DOGEUSDT - 历史波动率分析 (365天)", 27)
text(27, 266, "波动率 (%)", 22, angle=-90)
text(CX, 536, "近期历史波动率数据", 24)
text(CX, 855, "历史波动率相关指标历史排名", 24)
text(CX, 1174, "RSI(14) 市场情绪指标", 24)
text(33, 1331, "RSI", 17, angle=-90)
text(CX, 1489, "日期", 22)

# table 1
T1_TOP, T1_ROW = 585, 19.4
ncol1 = len(TABLE1_HEADER)
cw1 = (AX_R - AX_L) / ncol1
rows1 = [TABLE1_HEADER] + [[d, str(a), str(b), str(c), str(r)] for d, a, b, c, r in
                           zip(TABLE_DATES, TABLE_VOL_7D, TABLE_VOL_14D, TABLE_VOL_30D, TABLE_RATIO)]
for ri, row in enumerate(rows1):
    y0 = T1_TOP + ri * T1_ROW
    fill = C7 if ri == 0 else ("#ffffff" if ri % 2 == 1 else "#f0f0f0")
    for ci, val in enumerate(row):
        x0 = AX_L + ci * cw1
        rect(x0, y0, x0 + cw1, y0 + T1_ROW, fill)
        text(x0 + cw1 / 2, y0 + T1_ROW / 2, val, 16.5, color="white" if ri == 0 else INK)

# table 2
T2_TOP, T2_ROW = 905, 70.7
ncol2 = len(RANK_HEADER)
cw2 = (AX_R - AX_L) / ncol2
rows2 = [RANK_HEADER] + [list(r) for r in zip(RANK_DESC, RANK_DATE, RANK_VALUE, RANK_POS)]
fills2 = [C7, "#c8e6c9", "#f4f4f4"]
for ri, row in enumerate(rows2):
    y0 = T2_TOP + ri * T2_ROW
    for ci, val in enumerate(row):
        x0 = AX_L + ci * cw2
        rect(x0, y0, x0 + cw2, y0 + T2_ROW, fills2[ri])
        text(x0 + cw2 / 2, y0 + T2_ROW / 2, val, 15, color="white" if ri == 0 else INK)

legend_base = dict(xanchor="left", yanchor="top", bgcolor="rgba(255,255,255,0.85)", bordercolor="#cccccc",
                   borderwidth=1, traceorder="grouped", tracegroupgap=2, itemwidth=48)

fig.update_layout(
    width=W, height=H, autosize=False,
    margin=dict(l=0, r=0, t=0, b=0),
    paper_bgcolor="white", plot_bgcolor="white",
    font=dict(family=FONT, color=INK),
    hovermode=False,
    xaxis=dict(xaxis_base, domain=[fx(AX_L), fx(AX_R)], anchor="y"),
    yaxis=dict(axis_base, domain=[fy(TOP_B), fy(TOP_T)], range=VOL_YRANGE, tickvals=VOL_YTICKS, anchor="x"),
    xaxis2=dict(xaxis_base, domain=[fx(AX_L), fx(AX_R)], anchor="y2"),
    yaxis2=dict(axis_base, domain=[fy(RSI_B), fy(RSI_T)], range=[0, 100], tickvals=RSI_YTICKS, anchor="x2"),
    legend=dict(legend_base, x=fx(111), y=fy(62), font=dict(size=20, family=FONT, color=INK)),
    legend2=dict(legend_base, x=fx(111), y=fy(1236), font=dict(size=19, family=FONT, color=INK)),
    shapes=shapes,
    annotations=annotations,
)

fig.write_html("out.html", config={"displayModeBar": False})
